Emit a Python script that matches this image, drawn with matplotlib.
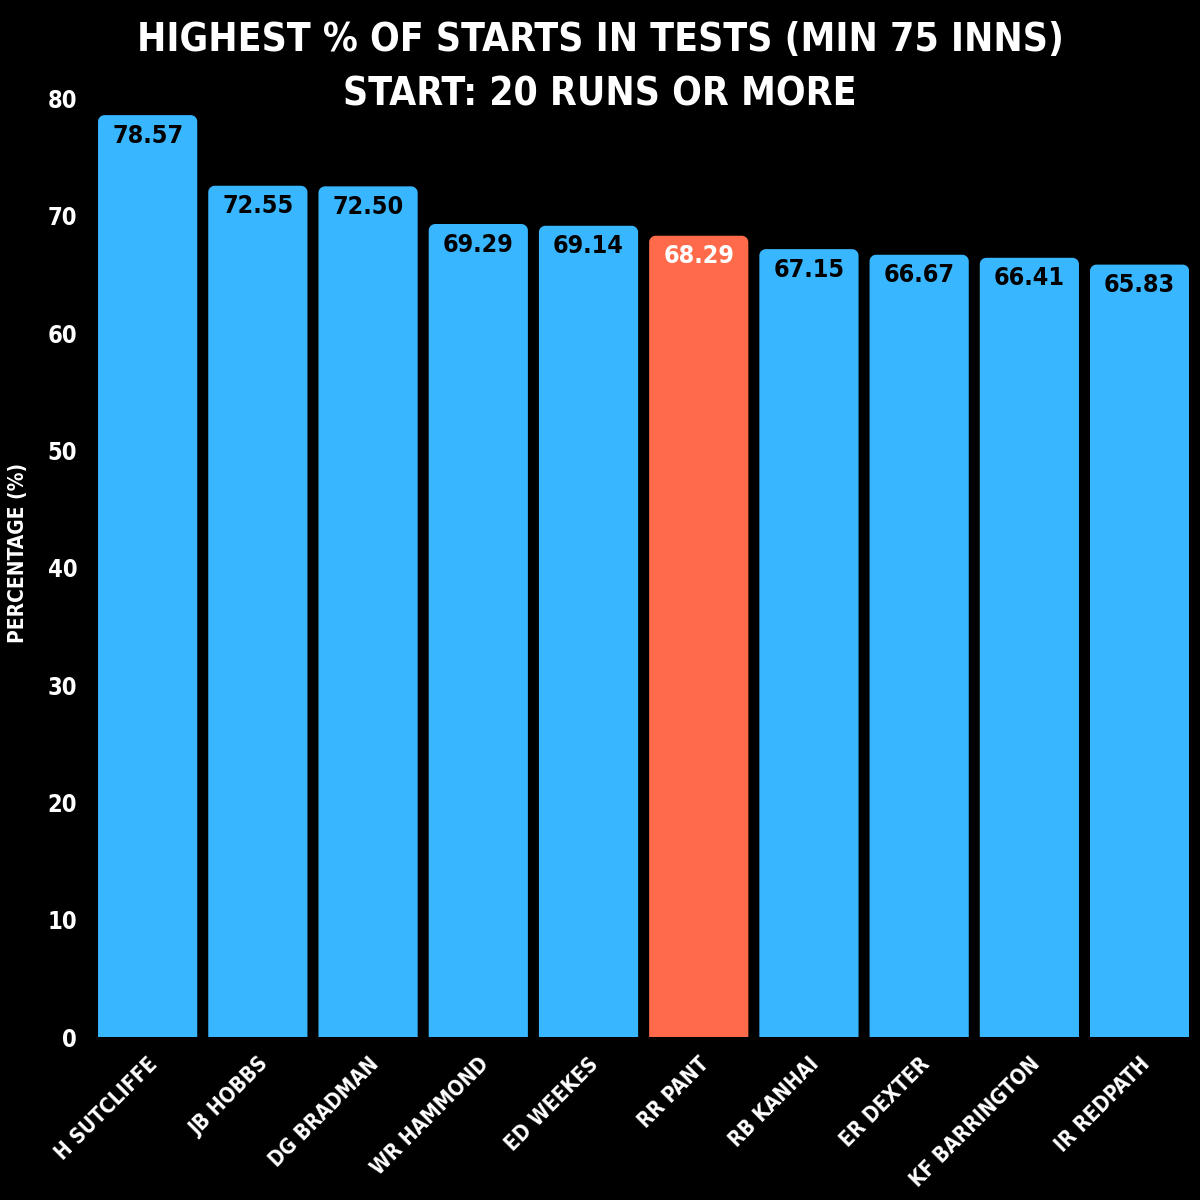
import numpy as np
import matplotlib.pyplot as plt
from matplotlib.patches import Polygon

players = ['H SUTCLIFFE', 'JB HOBBS', 'DG BRADMAN', 'WR HAMMOND', 'ED WEEKES',
           'RR PANT', 'RB KANHAI', 'ER DEXTER', 'KF BARRINGTON', 'IR REDPATH']
start_pct = [78.57, 72.55, 72.50, 69.29, 69.14, 68.29, 67.15, 66.67, 66.41, 65.83]
highlight = 'RR PANT'

BLUE = '#38B6FF'
ORANGE = '#FF6B4A'
FONT = dict(family='DejaVu Sans', fontstretch='condensed', fontweight='bold')


def rounded_top(x, w, h, rx, ry):
    # outline of a bar with rounded top corners only
    t = np.linspace(0, np.pi / 2, 12)
    right = np.column_stack([x + w - rx + rx * np.cos(t), h - ry + ry * np.sin(t)])
    left = np.column_stack([x + rx - rx * np.sin(t), h - ry + ry * np.cos(t)])
    return np.vstack([[x, 0], [x + w, 0], right, left])


fig = plt.figure(figsize=(12, 12), dpi=100, facecolor='black')
ax = fig.add_axes([0.0817, 0.1358, 0.9093, 0.8067])
ax.set_facecolor('black')

colors = [ORANGE if p == highlight else BLUE for p in players]
bars = ax.bar(range(len(players)), start_pct, width=0.9, color=colors)

for bar, c in zip(bars, colors):
    bar.set_visible(False)
    pts = rounded_top(bar.get_x(), bar.get_width(), bar.get_height(), 0.06, 0.55)
    ax.add_patch(Polygon(pts, closed=True, facecolor=c, edgecolor='none'))

for i, (p, v) in enumerate(zip(players, start_pct)):
    ax.text(i, v - 1.75, f'{v:.2f}', ha='center', va='center', fontsize=18,
            color='white' if p == highlight else 'black', **FONT)

ax.set_xlim(-0.45, len(players) - 0.55)
ax.set_ylim(0, 82.5)
ax.set_yticks(range(0, 81, 10))
ax.set_yticklabels([str(t) for t in range(0, 81, 10)], color='white', fontsize=17, **FONT)
ax.set_xticks(range(len(players)))
ax.set_xticklabels(players, rotation=45, ha='right', rotation_mode='anchor',
                   color='white', fontsize=15, **FONT)
ax.tick_params(axis='y', length=0, pad=15)
ax.tick_params(axis='x', length=0, pad=12)
for s in ax.spines.values():
    s.set_visible(False)

ax.set_ylabel('PERCENTAGE (%)', color='white', fontsize=15, labelpad=14, **FONT)

fig.text(0.5, 0.967, 'HIGHEST % OF STARTS IN TESTS (MIN 75 INNS)', ha='center', va='center',
         color='white', fontsize=28, **FONT)
fig.text(0.5, 0.921, 'START: 20 RUNS OR MORE', ha='center', va='center',
         color='white', fontsize=28, **FONT)

fig.savefig('out.png', dpi=100, facecolor='black')
